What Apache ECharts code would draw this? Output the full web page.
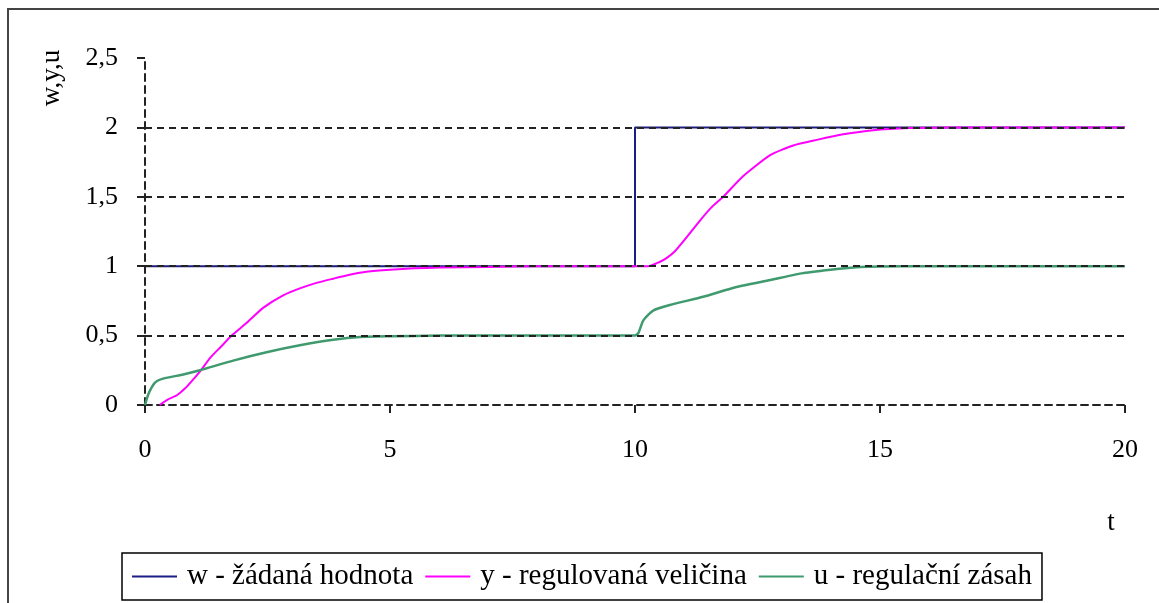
<!DOCTYPE html>
<html lang="cs">
<head>
    <meta charset="UTF-8">
    <title>w, y, u</title>
    <style>
        html, body { margin: 0; padding: 0; background: #fff; }
        #chart { width: 1159px; height: 603px; }
    </style>
</head>
<body>
    <div id="chart"></div>
    <script src="https://cdn.jsdelivr.net/npm/echarts@6/dist/echarts.min.js"></script>
    <script type="text/javascript">
        // w - setpoint
        var tW = [0, 10, 10, 20];
        var wVals = [1, 1, 2, 2];

        // y - controlled variable
        var tY = [0.3, 0.47, 0.65, 0.82, 0.95, 1.12, 1.33, 1.55, 1.77, 2.07, 2.41, 2.82, 3.16, 3.5, 3.84, 4.2, 4.52, 5, 5.5, 6, 7, 8,
                  10, 10.27, 10.5, 10.65, 10.82, 10.99, 11.33, 11.55, 11.8, 12.21, 12.76, 13.23, 13.71, 14.25, 14.86, 15.6, 16.5, 20];
        var yVals = [0, 0.04, 0.07, 0.12, 0.17, 0.24, 0.34, 0.42, 0.5, 0.59, 0.7, 0.79, 0.84, 0.88, 0.91, 0.94, 0.96, 0.975, 0.985, 0.99, 0.995, 1,
                     1, 1, 1.03, 1.06, 1.11, 1.18, 1.33, 1.42, 1.5, 1.65, 1.8, 1.87, 1.91, 1.95, 1.98, 1.995, 2, 2];

        // u - control action
        var tU = [0, 0.07, 0.2, 0.37, 0.78, 1.12, 1.8, 2.48, 3.16, 3.84, 4.39, 5, 6,
                  10, 10.07, 10.17, 10.37, 10.71, 11.39, 12.07, 12.76, 13.43, 14.12, 14.6, 15.5, 20];
        var uVals = [0, 0.08, 0.16, 0.19, 0.22, 0.25, 0.32, 0.38, 0.43, 0.47, 0.49, 0.495, 0.5,
                     0.5, 0.52, 0.61, 0.68, 0.72, 0.78, 0.85, 0.9, 0.95, 0.98, 0.995, 1, 1];

        var gridValues = [0.5, 1, 1.5, 2];
        var names = ['w - žádaná hodnota', 'y - regulovaná veličina', 'u - regulační zásah'];

        function pairs(ts, vs) {
            return ts.map(function (t, i) { return [t, vs[i]]; });
        }

        var font = "'Liberation Serif', 'DejaVu Serif', serif";
        var dash = [7, 5];

        var myChart = echarts.init(document.getElementById('chart'));
        myChart.setOption({
            animation: false,
            backgroundColor: '#fff',
            textStyle: { fontFamily: font },
            grid: { left: 145, right: 34, top: 58, bottom: 198 },
            graphic: [{
                type: 'rect',
                shape: { x: 8, y: 9, width: 1200, height: 700 },
                style: { fill: 'none', stroke: '#444', lineWidth: 2 },
                silent: true
            }, {
                type: 'text',
                x: 52, y: 78,
                rotation: Math.PI / 2,
                style: { text: 'w,y,u', font: '27px ' + font, fill: '#000', align: 'center', verticalAlign: 'middle' }
            }, {
                type: 'text',
                x: 1111, y: 523,
                style: { text: 't', font: '27px ' + font, fill: '#000', align: 'center', verticalAlign: 'middle' }
            }],
            legend: {
                left: 122,
                top: 553,
                padding: [9, 10, 9, 10],
                borderColor: '#000',
                borderWidth: 1.5,
                itemWidth: 45,
                itemHeight: 2,
                itemGap: 12,
                icon: 'rect',
                data: names,
                textStyle: { fontFamily: font, fontSize: 29, color: '#000', lineHeight: 29, padding: [0, 0, 0, 5] }
            },
            xAxis: {
                type: 'value',
                min: 0, max: 20, interval: 5,
                axisLine: { lineStyle: { color: '#222', width: 2, type: dash } },
                axisTick: { show: true, length: 8, lineStyle: { color: '#222', width: 2 } },
                axisLabel: { color: '#000', fontSize: 26, fontFamily: font, margin: 32 },
                splitLine: { show: false }
            },
            yAxis: {
                type: 'value',
                min: 0, max: 2.5, interval: 0.5,
                axisLine: { show: true, lineStyle: { color: '#222', width: 2, type: dash } },
                axisTick: { show: true, length: 8, lineStyle: { color: '#222', width: 2 } },
                axisLabel: {
                    color: '#000', fontSize: 26, fontFamily: font, margin: 27,
                    formatter: function (v) { return String(v).replace('.', ','); }
                },
                splitLine: { show: false }
            },
            series: [{
                name: names[0],
                type: 'line',
                showSymbol: false,
                color: '#1c1c86',
                lineStyle: { width: 2 },
                data: pairs(tW, wVals),
                markLine: {
                    silent: true,
                    symbol: 'none',
                    label: { show: false },
                    lineStyle: { color: '#222', width: 2, type: dash },
                    data: gridValues.map(function (v) { return { yAxis: v }; })
                }
            }, {
                name: names[1],
                type: 'line',
                showSymbol: false,
                smooth: 0.2,
                color: '#ff00ff',
                lineStyle: { width: 2 },
                data: pairs(tY, yVals)
            }, {
                name: names[2],
                type: 'line',
                showSymbol: false,
                smooth: 0.2,
                color: '#3f9a6e',
                lineStyle: { width: 2.5 },
                data: pairs(tU, uVals)
            }]
        });
    </script>
</body>
</html>
